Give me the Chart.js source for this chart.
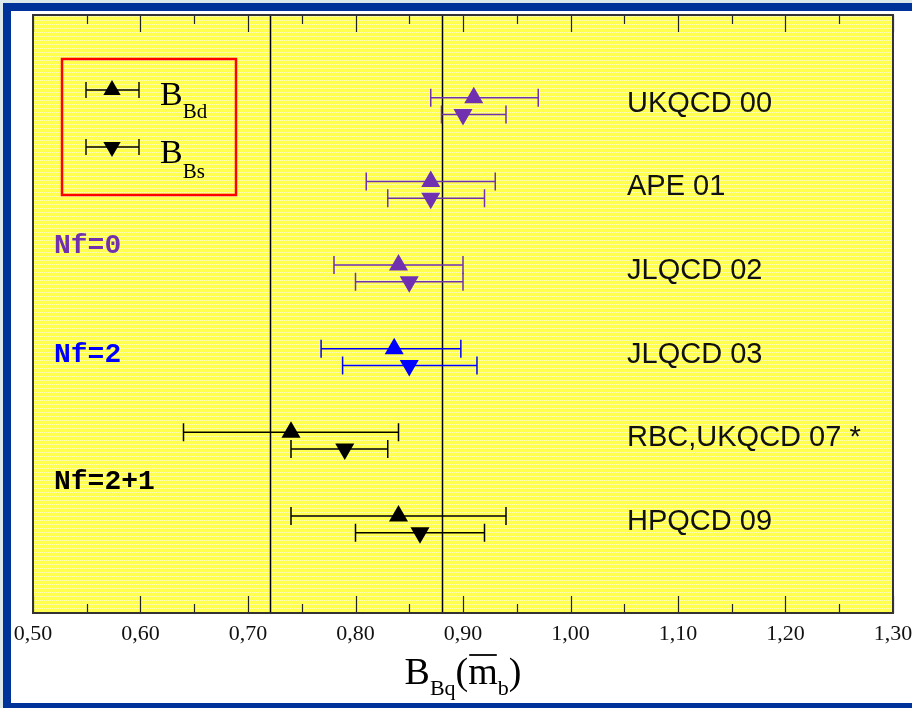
<!DOCTYPE html>
<html>
<head>
<meta charset="utf-8">
<script src="https://cdn.jsdelivr.net/npm/chart.js@4.4.1/dist/chart.umd.min.js"></script>
<style>
  html, body { margin: 0; padding: 0; background: #ffffff; }
  #wrap { width: 912px; height: 708px; position: relative; }
  canvas { display: block; }
</style>
</head>
<body>
<div id="wrap"><canvas id="chart" width="912" height="708"></canvas></div>
<script>
// Lattice results for the bag parameters B_Bd and B_Bs
const studies = ['UKQCD 00', 'APE 01', 'JLQCD 02', 'JLQCD 03', 'RBC,UKQCD 07 *', 'HPQCD 09'];
const flavours = ['Nf=0', 'Nf=0', 'Nf=0', 'Nf=2', 'Nf=2+1', 'Nf=2+1'];

const bdValue = [0.91, 0.87, 0.84, 0.836, 0.74, 0.84];
const bdLow   = [0.87, 0.81, 0.78, 0.768, 0.64, 0.74];
const bdHigh  = [0.97, 0.93, 0.90, 0.898, 0.84, 0.94];

const bsValue = [0.90, 0.87, 0.85, 0.850, 0.79, 0.86];
const bsLow   = [0.88, 0.83, 0.80, 0.788, 0.74, 0.80];
const bsHigh  = [0.94, 0.92, 0.90, 0.913, 0.83, 0.92];

const nfLabels = ['Nf=0', 'Nf=2', 'Nf=2+1'];
const referenceLines = [0.72, 0.88];
const xTickValues = [0.5, 0.6, 0.7, 0.8, 0.9, 1.0, 1.1, 1.2, 1.3];
const xMinorValues = [0.55, 0.65, 0.75, 0.85, 0.95, 1.05, 1.15, 1.25];

// presentation
const nfColor = { 'Nf=0': '#7030b0', 'Nf=2': '#0000ff', 'Nf=2+1': '#000000' };
const nfLabelRow = { 'Nf=0': 2.76, 'Nf=2': 4.06, 'Nf=2+1': 5.58 };
const rowY = i => 1.05 + i;
const BD_OFFSET = -0.06, BS_OFFSET = 0.14;
const pointColors = flavours.map(f => nfColor[f]);

function makePattern(ctx) {
  const p = document.createElement('canvas');
  p.width = 4; p.height = 4;
  const g = p.getContext('2d');
  g.fillStyle = '#ffff4c';
  g.fillRect(0, 0, 4, 4);
  g.fillStyle = '#ffffb4';
  g.fillRect(0, 0, 1, 1);
  g.fillRect(2, 0, 1, 1);
  g.fillStyle = '#ffff80';
  g.fillRect(1, 2, 1, 1);
  g.fillRect(3, 2, 1, 1);
  return ctx.createPattern(p, 'repeat');
}

function errorBar(ctx, xs, y, lo, hi, color) {
  const x1 = xs.getPixelForValue(lo), x2 = xs.getPixelForValue(hi);
  ctx.save();
  ctx.strokeStyle = color;
  ctx.lineWidth = 1.5;
  ctx.beginPath();
  ctx.moveTo(x1, y); ctx.lineTo(x2, y);
  ctx.moveTo(x1, y - 9); ctx.lineTo(x1, y + 9);
  ctx.moveTo(x2, y - 9); ctx.lineTo(x2, y + 9);
  ctx.stroke();
  ctx.restore();
}

function triangle(ctx, x, y, r, down, color) {
  const s = down ? -1 : 1;
  ctx.save();
  ctx.fillStyle = color;
  ctx.beginPath();
  ctx.moveTo(x, y - s * r);
  ctx.lineTo(x + r * 0.866, y + s * r * 0.5);
  ctx.lineTo(x - r * 0.866, y + s * r * 0.5);
  ctx.closePath();
  ctx.fill();
  ctx.restore();
}

function drawRich(ctx, parts, x, baseline) {
  let cx = x;
  parts.forEach(p => {
    ctx.font = p.font;
    const w = ctx.measureText(p.t).width;
    ctx.fillText(p.t, cx, baseline + (p.dy || 0));
    if (p.over) {
      ctx.save();
      ctx.lineWidth = 1.8;
      ctx.beginPath();
      ctx.moveTo(cx + 1, baseline - 29);
      ctx.lineTo(cx + w - 1, baseline - 29);
      ctx.stroke();
      ctx.restore();
    }
    cx += w + (p.gap || 0);
  });
  return cx - x;
}

const decorPlugin = {
  id: 'decor',
  beforeDraw(chart) {
    const ctx = chart.ctx, a = chart.chartArea;
    ctx.save();
    ctx.fillStyle = '#ffffff';
    ctx.fillRect(0, 0, chart.width, chart.height);
    // frame
    ctx.fillStyle = '#dde9ea';
    ctx.fillRect(0, 0, chart.width, 3);
    ctx.fillRect(0, 0, 3, chart.height);
    ctx.fillStyle = '#003399';
    ctx.fillRect(3, 3, chart.width - 3, 8);
    ctx.fillRect(3, 3, 8, chart.height - 3);
    ctx.fillRect(3, 703, chart.width - 3, 5);
    // plot background
    ctx.fillStyle = makePattern(ctx);
    ctx.fillRect(a.left, a.top, a.right - a.left, a.bottom - a.top);
    ctx.restore();
  },
  beforeDatasetsDraw(chart) {
    const ctx = chart.ctx, a = chart.chartArea;
    const xs = chart.scales.x, ys = chart.scales.y;
    ctx.save();
    ctx.strokeStyle = '#000000';
    ctx.lineWidth = 1.5;
    referenceLines.forEach(v => {
      const x = Math.round(xs.getPixelForValue(v)) + 0.5;
      ctx.beginPath();
      ctx.moveTo(x, a.top); ctx.lineTo(x, a.bottom);
      ctx.stroke();
    });
    ctx.restore();
    studies.forEach((s, i) => {
      errorBar(ctx, xs, ys.getPixelForValue(rowY(i) + BD_OFFSET), bdLow[i], bdHigh[i], pointColors[i]);
      errorBar(ctx, xs, ys.getPixelForValue(rowY(i) + BS_OFFSET), bsLow[i], bsHigh[i], pointColors[i]);
    });
  },
  afterDraw(chart) {
    const ctx = chart.ctx, a = chart.chartArea;
    const xs = chart.scales.x, ys = chart.scales.y;
    ctx.save();
    // inward tick marks on top and bottom edges
    ctx.strokeStyle = '#222222';
    ctx.lineWidth = 1.2;
    ctx.beginPath();
    xTickValues.forEach(v => {
      const x = Math.round(xs.getPixelForValue(v)) + 0.5;
      ctx.moveTo(x, a.top); ctx.lineTo(x, a.top + 17);
      ctx.moveTo(x, a.bottom); ctx.lineTo(x, a.bottom - 17);
    });
    xMinorValues.forEach(v => {
      const x = Math.round(xs.getPixelForValue(v)) + 0.5;
      ctx.moveTo(x, a.top); ctx.lineTo(x, a.top + 9);
      ctx.moveTo(x, a.bottom); ctx.lineTo(x, a.bottom - 9);
    });
    ctx.stroke();
    // plot border
    ctx.strokeStyle = '#333333';
    ctx.lineWidth = 2;
    ctx.strokeRect(a.left, a.top, a.right - a.left, a.bottom - a.top);

    // study names
    ctx.fillStyle = '#111111';
    ctx.font = '29px "Liberation Sans", Arial, sans-serif';
    ctx.textBaseline = 'middle';
    ctx.textAlign = 'left';
    studies.forEach((s, i) => ctx.fillText(s, 627, ys.getPixelForValue(rowY(i)) + 1));

    // flavour groups
    ctx.font = 'bold 28px "Liberation Mono", "DejaVu Sans Mono", monospace';
    nfLabels.forEach(n => {
      ctx.fillStyle = nfColor[n];
      ctx.fillText(n, 54, ys.getPixelForValue(nfLabelRow[n]));
    });

    // legend box
    ctx.strokeStyle = '#ff0000';
    ctx.lineWidth = 2.5;
    ctx.strokeRect(62, 59, 174, 136);
    const lx1 = 86, lx2 = 139;
    [[90, false], [147, true]].forEach(([y, down]) => {
      ctx.strokeStyle = '#000000';
      ctx.lineWidth = 1.4;
      ctx.beginPath();
      ctx.moveTo(lx1, y); ctx.lineTo(lx2, y);
      ctx.moveTo(lx1, y - 8); ctx.lineTo(lx1, y + 8);
      ctx.moveTo(lx2, y - 8); ctx.lineTo(lx2, y + 8);
      ctx.stroke();
      triangle(ctx, 112, y, 10, down, '#000000');
    });
    ctx.fillStyle = '#000000';
    ctx.textBaseline = 'alphabetic';
    const serif = '"Liberation Serif", "Times New Roman", serif';
    drawRich(ctx, [{ t: 'B', font: '34px ' + serif }, { t: 'Bd', font: '21px ' + serif, dy: 13 }], 160, 105);
    drawRich(ctx, [{ t: 'B', font: '34px ' + serif }, { t: 'Bs', font: '21px ' + serif, dy: 15 }], 160, 163);

    // axis title
    const titleParts = [
      { t: 'B', font: '38px ' + serif },
      { t: 'Bq', font: '22px ' + serif, dy: 11 },
      { t: '(', font: '38px ' + serif },
      { t: 'm', font: '38px ' + serif, over: true },
      { t: 'b', font: '22px ' + serif, dy: 11 },
      { t: ')', font: '38px ' + serif }
    ];
    let total = 0;
    titleParts.forEach(p => { ctx.font = p.font; total += ctx.measureText(p.t).width; });
    drawRich(ctx, titleParts, 463 - total / 2, 684);
    ctx.restore();
  }
};

const ctx = document.getElementById('chart').getContext('2d');
new Chart(ctx, {
  type: 'scatter',
  data: {
    datasets: [
      {
        label: 'B_Bd',
        data: studies.map((s, i) => ({ x: bdValue[i], y: rowY(i) + BD_OFFSET })),
        pointStyle: 'triangle',
        pointRadius: 11,
        pointRotation: 0,
        pointBackgroundColor: pointColors,
        pointBorderColor: pointColors,
        pointBorderWidth: 0
      },
      {
        label: 'B_Bs',
        data: studies.map((s, i) => ({ x: bsValue[i], y: rowY(i) + BS_OFFSET })),
        pointStyle: 'triangle',
        pointRadius: 11,
        pointRotation: 180,
        pointBackgroundColor: pointColors,
        pointBorderColor: pointColors,
        pointBorderWidth: 0
      }
    ]
  },
  options: {
    responsive: false,
    animation: false,
    events: [],
    layout: { padding: { left: 33, right: 19, top: 15, bottom: 0 } },
    plugins: { legend: { display: false }, tooltip: { enabled: false } },
    scales: {
      x: {
        type: 'linear',
        min: 0.5,
        max: 1.3,
        afterBuildTicks: s => { s.ticks = xTickValues.map(v => ({ value: v })); },
        afterFit: s => { s.height = 95; s.paddingLeft = 0; s.paddingRight = 0; },
        ticks: {
          callback: v => Number(v).toFixed(2).replace('.', ','),
          font: { family: '"Liberation Serif", "Times New Roman", serif', size: 22 },
          color: '#111111',
          padding: 0,
          maxRotation: 0,
          autoSkip: false
        },
        grid: { display: false },
        border: { display: false }
      },
      y: { type: 'linear', min: 0, max: 7.15, reverse: true, display: false }
    }
  },
  plugins: [decorPlugin]
});
</script>
</body>
</html>
